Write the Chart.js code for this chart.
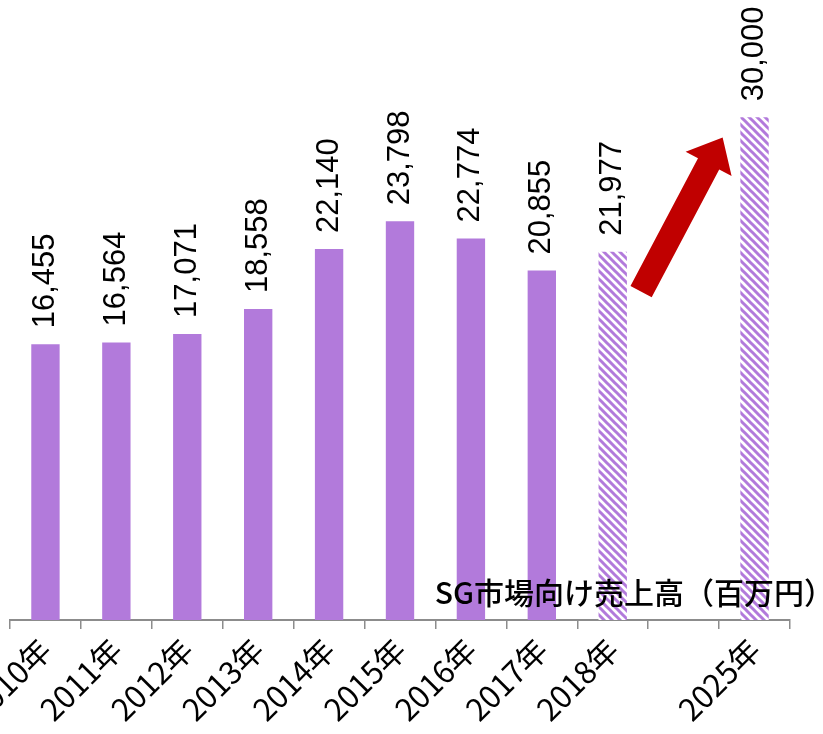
<!DOCTYPE html>
<html>
<head>
<meta charset="utf-8">
<script src="https://cdn.jsdelivr.net/npm/chart.js@4/dist/chart.umd.min.js"></script>
<style>
  html, body { margin: 0; padding: 0; background: #fff; }
  #wrap { width: 823px; height: 734px; }
</style>
</head>
<body>
<div id="wrap"><canvas id="chart" width="823" height="734"></canvas></div>
<script>
const years = ['2010年', '2011年', '2012年', '2013年', '2014年', '2015年', '2016年', '2017年', '2018年', '', '2025年'];
const sales = [16455, 16564, 17071, 18558, 22140, 23798, 22774, 20855, 21977, null, 30000];
const forecast = [false, false, false, false, false, false, false, false, true, false, true];
const seriesName = 'SG市場向け売上高（百万円）';

const purple = '#B27ADB';

function stripes(color) {
    const c = document.createElement('canvas');
    c.width = c.height = 8;
    const g = c.getContext('2d');
    g.fillStyle = '#fff';
    g.fillRect(0, 0, 8, 8);
    g.strokeStyle = color;
    g.lineWidth = 3;
    g.beginPath();
    g.moveTo(-2, -2); g.lineTo(10, 10);
    g.moveTo(-2, 6); g.lineTo(2, 10);
    g.moveTo(6, -2); g.lineTo(10, 2);
    g.stroke();
    return g.createPattern(c, 'repeat');
}

const hatch = stripes(purple);

// value labels, rotated, above each bar
const valueLabels = {
    id: 'valueLabels',
    afterDatasetsDraw(chart) {
        const ctx = chart.ctx;
        const meta = chart.getDatasetMeta(0);
        ctx.save();
        ctx.font = '31px "Liberation Sans", Arial, sans-serif';
        ctx.fillStyle = '#000';
        ctx.textAlign = 'left';
        ctx.textBaseline = 'middle';
        meta.data.forEach((bar, i) => {
            const v = sales[i];
            if (v == null) return;
            ctx.save();
            ctx.translate(bar.x, bar.y - 16);
            ctx.rotate(-Math.PI / 2);
            ctx.fillText(v.toLocaleString('en-US'), 0, 0);
            ctx.restore();
        });
        ctx.restore();
    }
};

// growth arrow from 2018 towards 2025
const growthArrow = {
    id: 'growthArrow',
    afterDatasetsDraw(chart) {
        const x = chart.scales.x, y = chart.scales.y;
        const x0 = x.getPixelForValue(8.4), y0 = y.getPixelForValue(19600);
        const x1 = x.getPixelForValue(9.55), y1 = y.getPixelForValue(28800);
        const ang = Math.atan2(y1 - y0, x1 - x0);
        const len = Math.hypot(x1 - x0, y1 - y0);
        const sw = 12, hw = 26, hl = 30;
        const ctx = chart.ctx;
        ctx.save();
        ctx.translate(x0, y0);
        ctx.rotate(ang);
        ctx.fillStyle = '#C00000';
        ctx.beginPath();
        ctx.moveTo(0, -sw);
        ctx.lineTo(len - hl, -sw);
        ctx.lineTo(len - hl, -hw);
        ctx.lineTo(len, 0);
        ctx.lineTo(len - hl, hw);
        ctx.lineTo(len - hl, sw);
        ctx.lineTo(0, sw);
        ctx.closePath();
        ctx.fill();
        ctx.restore();
    }
};

// series name, bottom right inside the plot
const seriesTitle = {
    id: 'seriesTitle',
    afterDatasetsDraw(chart) {
        const a = chart.chartArea;
        const ctx = chart.ctx;
        ctx.save();
        ctx.font = '500 30px "Noto Sans CJK JP", sans-serif';
        ctx.fillStyle = '#000';
        ctx.textAlign = 'right';
        ctx.textBaseline = 'alphabetic';
        ctx.fillText(chart.data.datasets[0].label, a.right + 44, a.bottom - 16);
        ctx.restore();
    }
};

new Chart(document.getElementById('chart'), {
    type: 'bar',
    data: {
        labels: years,
        datasets: [{
            label: seriesName,
            data: sales,
            backgroundColor: forecast.map(f => f ? hatch : purple),
            borderWidth: 0,
            categoryPercentage: 1,
            barPercentage: 0.4
        }]
    },
    options: {
        responsive: false,
        animation: false,
        layout: { padding: { left: 10, right: 33, top: 0, bottom: 0 } },
        plugins: {
            legend: { display: false },
            tooltip: { enabled: false },
            title: { display: false }
        },
        scales: {
            x: {
                grid: {
                    display: true,
                    drawOnChartArea: false,
                    drawTicks: true,
                    tickLength: 9,
                    tickColor: '#8c8c8c',
                    lineWidth: 1.5
                },
                border: { color: '#8c8c8c', width: 2 },
                ticks: {
                    color: '#000',
                    font: { family: '"Noto Sans CJK JP", sans-serif', size: 31 },
                    minRotation: 45,
                    maxRotation: 45,
                    autoSkip: false,
                    padding: 2
                },
                afterFit(scale) {
                    scale.height = 114;
                    scale.paddingLeft = 0;
                    scale.paddingRight = 0;
                }
            },
            y: {
                display: false,
                min: 0,
                max: 37000
            }
        }
    },
    plugins: [valueLabels, growthArrow, seriesTitle]
});
</script>
</body>
</html>
